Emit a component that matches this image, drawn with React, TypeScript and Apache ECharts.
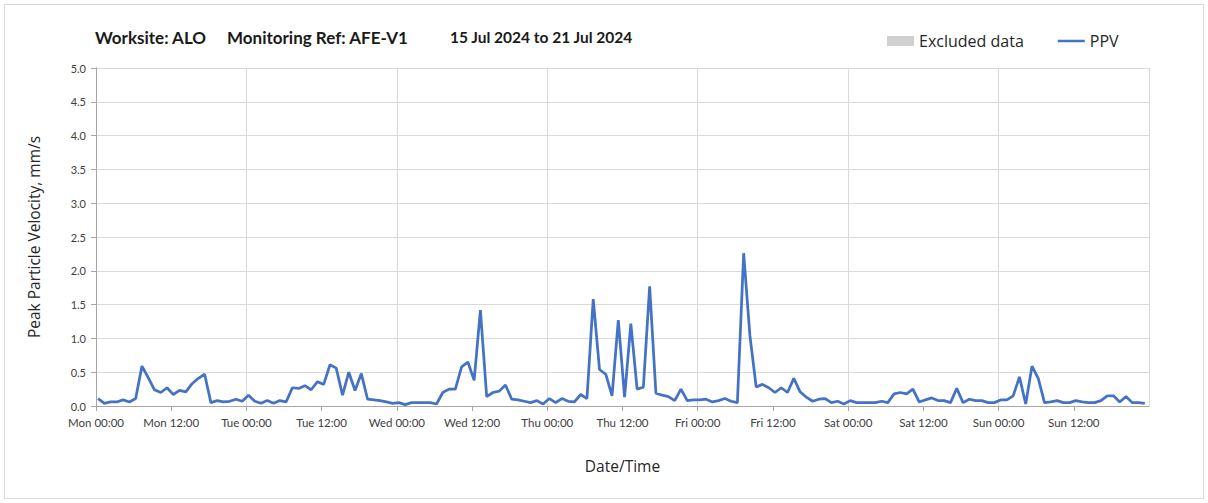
import React, { useEffect, useRef } from "react";
import * as echarts from "echarts";

const dayNames = ["Mon", "Tue", "Wed", "Thu", "Fri", "Sat", "Sun"];
const titleParts = ["Worksite: ALO", "Monitoring Ref: AFE-V1", "15 Jul 2024 to 21 Jul 2024"];
const firstReadingHour = 0.33; // readings hourly, first one shortly after Mon 00:00
const ppv = [
  0.11, 0.04, 0.06, 0.06, 0.09, 0.06, 0.11, 0.59, 0.42, 0.24, 0.20, 0.27,
  0.17, 0.23, 0.21, 0.33, 0.41, 0.47, 0.05, 0.08, 0.06, 0.07, 0.10, 0.07,
  0.16, 0.07, 0.04, 0.08, 0.04, 0.08, 0.06, 0.27, 0.26, 0.30, 0.24, 0.36,
  0.32, 0.61, 0.56, 0.16, 0.50, 0.23, 0.48, 0.10, 0.09, 0.08, 0.06, 0.04,
  0.05, 0.02, 0.05, 0.05, 0.05, 0.05, 0.03, 0.20, 0.25, 0.25, 0.58, 0.65,
  0.38, 1.42, 0.14, 0.20, 0.22, 0.31, 0.10, 0.09, 0.07, 0.05, 0.08, 0.03,
  0.11, 0.05, 0.11, 0.07, 0.06, 0.17, 0.11, 1.58, 0.54, 0.47, 0.15, 1.27,
  0.13, 1.22, 0.25, 0.28, 1.77, 0.19, 0.16, 0.14, 0.08, 0.25, 0.08, 0.09,
  0.09, 0.10, 0.06, 0.08, 0.11, 0.07, 0.05, 2.26, 1.04, 0.28, 0.32, 0.27,
  0.20, 0.27, 0.20, 0.41, 0.21, 0.13, 0.07, 0.10, 0.11, 0.05, 0.07, 0.03,
  0.08, 0.05, 0.05, 0.05, 0.05, 0.07, 0.05, 0.18, 0.20, 0.18, 0.25, 0.06,
  0.09, 0.12, 0.08, 0.08, 0.05, 0.26, 0.05, 0.10, 0.08, 0.08, 0.05, 0.05,
  0.09, 0.09, 0.15, 0.43, 0.03, 0.59, 0.41, 0.05, 0.06, 0.08, 0.05, 0.05,
  0.08, 0.06, 0.05, 0.05, 0.08, 0.15, 0.15, 0.06, 0.14, 0.05, 0.05, 0.04,
];

const FONT = "Lato, 'Noto Sans', sans-serif";
const UI_FONT = "'Open Sans', 'Noto Sans', sans-serif";

export default function App() {
  const ref = useRef<HTMLDivElement>(null);

  useEffect(() => {
    if (!ref.current) return;
    const chart = echarts.init(ref.current, undefined, { renderer: "svg" });
    const seriesData = ppv.map((v, i) => [firstReadingHour + i, v]);
    const titleLefts = [90, 222, 445];
    const titleSizes = [17, 17, 15.5];
    chart.setOption({
      animation: false,
      backgroundColor: "#ffffff",
      title: titleParts.map((t, i) => ({
        text: t,
        left: titleLefts[i],
        top: 24,
        textStyle: { fontFamily: FONT, fontSize: titleSizes[i], fontWeight: "bold", color: "#1a1a1a" },
      })),
      graphic: [
        {
          type: "rect",
          shape: { x: 4.5, y: 4.5, width: 1199, height: 494 },
          style: { fill: "none", stroke: "#d9d9d9", lineWidth: 1 },
          silent: true,
        },
      ],
      legend: {
        left: 882,
        top: 28,
        itemGap: 34,
        itemWidth: 27,
        itemHeight: 10,
        textStyle: { fontFamily: UI_FONT, fontSize: 16, color: "#262626" },
        data: [
          { name: "Excluded data", icon: "rect" },
          { name: "PPV", icon: "path://M0 0 H28 V2.6 H0 Z" },
        ],
      },
      grid: { left: 96, right: 59, top: 68, bottom: 97 },
      xAxis: [
        {
          type: "value",
          min: 0,
          max: 168,
          interval: 12,
          name: "Date/Time",
          nameLocation: "middle",
          nameGap: 52,
          nameTextStyle: { fontFamily: UI_FONT, fontSize: 15.5, color: "#262626" },
          axisLine: { show: true, lineStyle: { color: "#a6a6a6" } },
          axisTick: { show: true, length: 5, lineStyle: { color: "#a6a6a6" } },
          axisLabel: {
            fontFamily: FONT,
            fontSize: 11.5,
            color: "#404040",
            margin: 10,
            showMaxLabel: false,
            formatter: (v: number) => {
              const d = Math.floor(v / 24);
              if (d >= dayNames.length) return "";
              return dayNames[d] + " " + (v % 24 === 0 ? "00:00" : "12:00");
            },
          },
          splitLine: { show: false },
        },
        {
          type: "value",
          min: 0,
          max: 168,
          interval: 24,
          position: "bottom",
          axisLine: { show: false },
          axisTick: { show: false },
          axisLabel: { show: false },
          splitLine: { show: true, lineStyle: { color: "#d9d9d9", width: 1 } },
        },
      ],
      yAxis: [
        {
          type: "value",
          min: 0,
          max: 5,
          interval: 0.5,
          name: "Peak Particle Velocity, mm/s",
          nameLocation: "middle",
          nameGap: 54,
          nameTextStyle: { fontFamily: UI_FONT, fontSize: 15.5, color: "#262626" },
          axisLine: { show: true, lineStyle: { color: "#a6a6a6" } },
          axisTick: { show: true, length: 5, lineStyle: { color: "#a6a6a6" } },
          axisLabel: {
            fontFamily: FONT,
            fontSize: 11,
            color: "#404040",
            margin: 10,
            formatter: (v: number) => v.toFixed(1),
          },
          splitLine: { show: true, lineStyle: { color: "#d9d9d9", width: 1 } },
        },
        {
          type: "value",
          min: 0,
          max: 5,
          position: "right",
          axisLine: { show: true, lineStyle: { color: "#a6a6a6" } },
          axisTick: { show: false },
          axisLabel: { show: false },
          splitLine: { show: false },
        },
      ],
      series: [
        {
          name: "Excluded data",
          type: "bar",
          data: [],
          itemStyle: { color: "#d0d0d0" },
        },
        {
          name: "PPV",
          type: "line",
          data: seriesData,
          symbol: "none",
          showSymbol: false,
          lineStyle: { color: "#4472c4", width: 2.75 },
          itemStyle: { color: "#4472c4" },
        },
      ],
    });
    return () => chart.dispose();
  }, []);

  return (
    <div
      ref={ref}
      style={{ position: "absolute", left: 0, top: 0, width: 1208, height: 503 }}
    />
  );
}
